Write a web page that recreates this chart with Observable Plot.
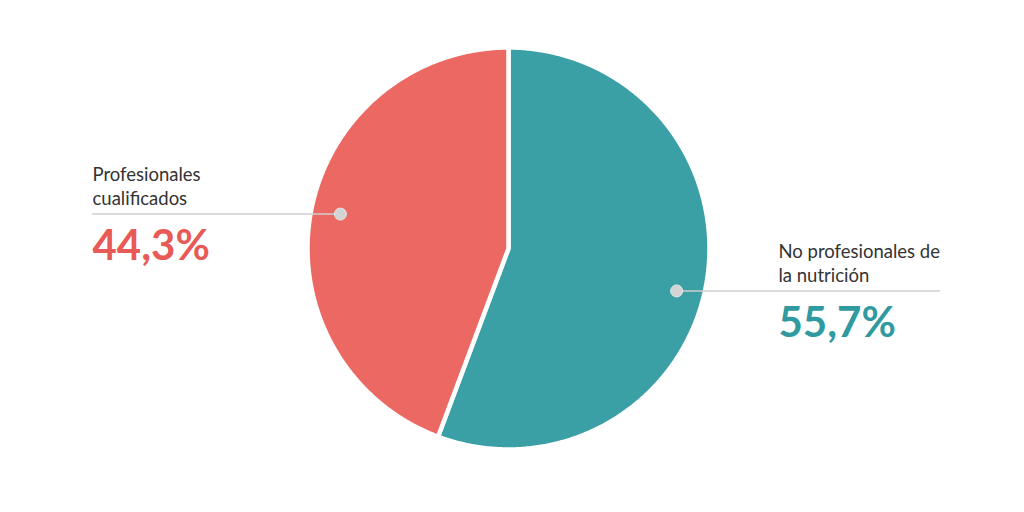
<!DOCTYPE html>
<html><head><meta charset="utf-8">
<script src="https://cdn.jsdelivr.net/npm/d3@7"></script>
<script src="https://cdn.jsdelivr.net/npm/@observablehq/plot@0.6"></script>
<style>body{margin:0;background:#fff;} svg{font-family:Lato,"Noto Sans",sans-serif;}</style>
</head><body><div id="chart"></div>
<script>
const categories = ["No profesionales de la nutrición", "Profesionales cualificados"];
const values = [55.7, 44.3];
const labelLines = ["No profesionales de\nla nutrición", "Profesionales\ncualificados"];
const valueLabels = ["55,7%", "44,3%"];
const sliceColors = ["#3AA0A6", "#EC6863"];
const textColors = ["#2F9AA0", "#E85A55"];

const W = 1024, H = 512, cx = 508, cy = 248, R = 201;
const arcs = d3.pie().sort(null)(values);

const slicePts = [];
arcs.forEach((a, i) => {
  slicePts.push({k: i, x: cx, y: cy});
  const n = Math.ceil((a.endAngle - a.startAngle) / (Math.PI / 360));
  for (let j = 0; j <= n; j++) {
    const t = a.startAngle + (a.endAngle - a.startAngle) * j / n;
    slicePts.push({k: i, x: cx + R * Math.sin(t), y: cy - R * Math.cos(t)});
  }
  slicePts.push({k: i, x: cx, y: cy});
});

const annots = arcs.map((a, i) => {
  const m = (a.startAngle + a.endAngle) / 2;
  const right = Math.sin(m) > 0;
  const dx = cx + 0.85 * R * Math.sin(m);
  const dy = cy - 0.85 * R * Math.cos(m) + (right ? 12 : -4);
  return {
    k: i, cat: categories[i], label: labelLines[i], pct: valueLabels[i],
    dx, y: dy,
    x1: right ? dx : 92, x2: right ? 940 : dx,
    tx: right ? 778 : 92,
    fill: sliceColors[i], tfill: textColors[i]
  };
});

const chart = Plot.plot({
  width: W, height: H, margin: 0,
  style: {background: "#fff", fontFamily: "Lato, 'Noto Sans', sans-serif"},
  x: {domain: [0, W], range: [0, W], axis: null},
  y: {domain: [0, H], range: [0, H], axis: null},
  color: {type: "identity"},
  marks: [
    Plot.line(slicePts, {x: "x", y: "y", z: "k", fill: d => sliceColors[d.k], stroke: "white", strokeWidth: 4.5, strokeLinejoin: "round", curve: "linear"}),
    Plot.ruleY(annots, {y: "y", x1: "x1", x2: "x2", stroke: "#cfcfcf", strokeWidth: 1.5}),
    Plot.dot(annots, {x: "dx", y: "y", r: 6, fill: "#d4d4d4", stroke: "#e6e6e6", strokeWidth: 1}),
    Plot.text(annots, {x: "tx", y: "y", dy: -9, text: "label", textAnchor: "start", lineAnchor: "bottom", lineHeight: 1.3, fontSize: 18.5, fill: "#333"}),
    Plot.text(annots, {x: "tx", y: "y", dy: 46, text: "pct", textAnchor: "start", lineAnchor: "bottom", fontSize: 42, fontWeight: 700, fill: "tfill"})
  ]
});
document.getElementById("chart").appendChild(chart);
</script>
</body></html>
